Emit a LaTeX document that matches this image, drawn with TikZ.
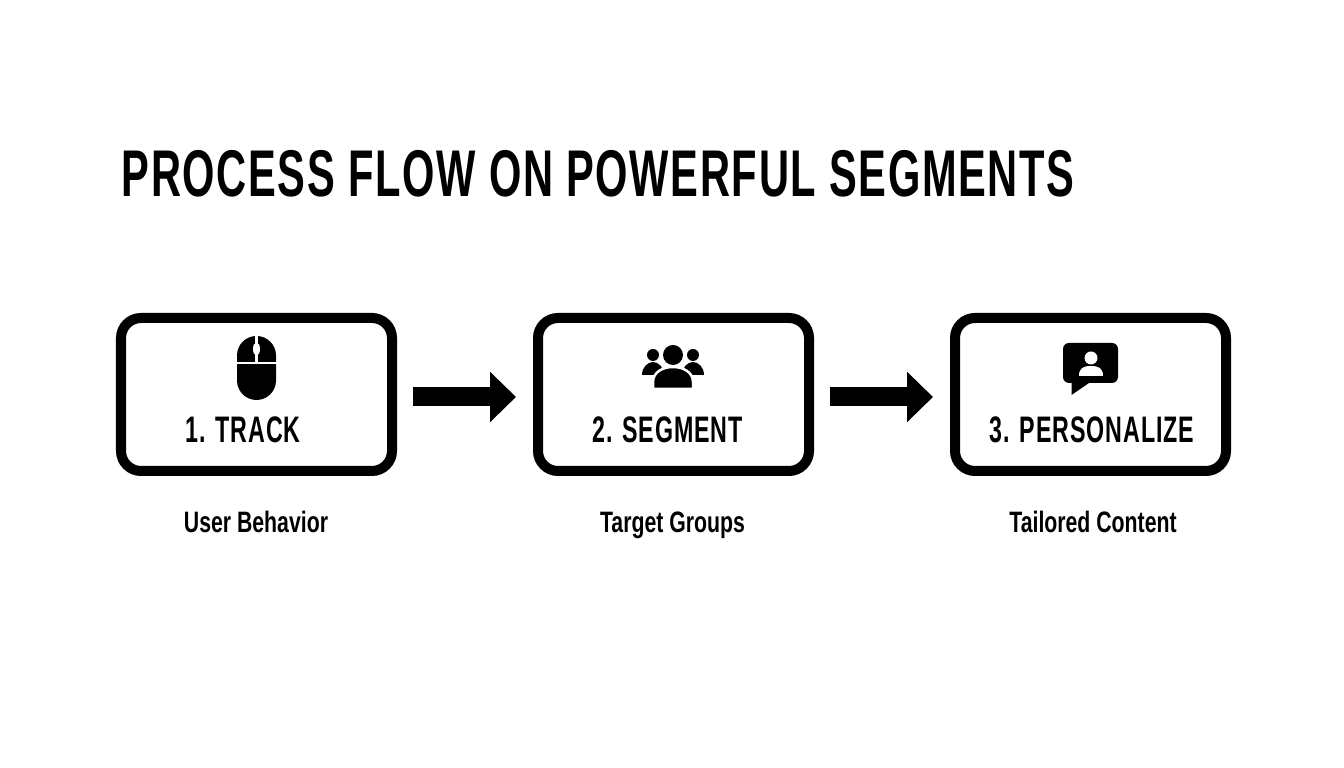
\documentclass[tikz,border=0pt]{standalone}
\usepackage{fontspec}
\usepackage{tikz}
\usetikzlibrary{arrows.meta,positioning}
\newfontfamily\condfont[FakeStretch=0.63,LetterSpace=2.5]{Liberation Sans}
\newfontfamily\subfont[FakeStretch=0.72]{Liberation Sans}
\tikzset{
	stepbox/.style={draw=black,fill=white,line width=0.1cm,rounded corners=0.2cm,minimum width=2.71cm,minimum height=1.53cm,inner sep=0},
	steplabel/.style={anchor=base,inner sep=0,font=\condfont\bfseries\fontsize{10.5}{12}\selectfont},
	sublabel/.style={anchor=base,inner sep=0,font=\subfont\bfseries\fontsize{8.4}{10}\selectfont},
	flowarrow/.style={line width=0.19cm,-{Triangle[length=0.26cm,width=0.49cm]},shorten <=0.16cm,shorten >=0.17cm},
	mouseicon/.pic={
		\fill[black] (-0.195,-0.125) arc (180:360:0.195) -- (0.195,0.125) arc (0:180:0.195) -- cycle;
		\draw[white,line width=0.025cm] (-0.22,0.05) -- (0.22,0.05);
		\draw[white,line width=0.025cm] (0,0.05) -- (0,0.34);
		\fill[white] (0,0.19) ellipse (0.035 and 0.065);
	},
	groupicon/.pic={
		\fill[black] (-0.2,0.15) circle (0.06);
		\fill[black] (0.2,0.15) circle (0.06);
		\fill[black] (-0.31,-0.05) .. controls (-0.31,0.03) and (-0.25,0.08) .. (-0.2,0.08) .. controls (-0.15,0.08) and (-0.09,0.03) .. (-0.09,-0.05) -- cycle;
		\fill[black] (0.31,-0.05) .. controls (0.31,0.03) and (0.25,0.08) .. (0.2,0.08) .. controls (0.15,0.08) and (0.09,0.03) .. (0.09,-0.05) -- cycle;
		\fill[black,draw=white,line width=0.025cm] (-0.2,-0.19) -- (-0.2,-0.12) .. controls (-0.2,-0.02) and (-0.1,0.03) .. (0,0.03) .. controls (0.1,0.03) and (0.2,-0.02) .. (0.2,-0.12) -- (0.2,-0.19) -- cycle;
		\fill[black] (0,0.15) circle (0.1);
	},
	chaticon/.pic={
		\fill[black,rounded corners=0.06cm] (-0.275,-0.2) rectangle (0.275,0.2);
		\fill[black] (-0.19,-0.15) -- (-0.19,-0.32) -- (0.0,-0.19) -- cycle;
		\fill[white] (0.005,0.05) circle (0.065);
		\fill[white] (-0.115,-0.13) .. controls (-0.115,-0.05) and (-0.07,-0.03) .. (0.005,-0.03) .. controls (0.08,-0.03) and (0.125,-0.05) .. (0.125,-0.13) -- cycle;
	}
}
\begin{document}
\begin{tikzpicture}
	\useasboundingbox (0,0) rectangle (13.44,7.68);

	\node[anchor=base west,inner sep=0,font=\condfont\bfseries\fontsize{18.8}{22}\selectfont] (title) at (1.21,5.71) {PROCESS FLOW ON POWERFUL SEGMENTS};

	\node[stepbox] (track) at (2.565,3.735) {};
	\node[stepbox] (segment) at (6.735,3.735) {};
	\node[stepbox] (personalize) at (10.905,3.735) {};

	\draw[flowarrow] ([yshift=-0.025cm]track.east) -- ([yshift=-0.025cm]segment.west);
	\draw[flowarrow] ([yshift=-0.025cm]segment.east) -- ([yshift=-0.025cm]personalize.west);

	\pic at (2.565,4.0) {mouseicon};
	\pic at (6.73,3.98) {groupicon};
	\pic at (10.905,4.05) {chaticon};

	\node[steplabel] (tracklabel) at (2.43,3.25) {1. TRACK};
	\node[steplabel] (segmentlabel) at (6.675,3.25) {2. SEGMENT};
	\node[steplabel] (personalizelabel) at (10.92,3.25) {3. PERSONALIZE};

	\node[sublabel] (trackpart) at (2.56,2.35) {User Behavior};
	\node[sublabel] (segmentpart) at (6.725,2.35) {Target Groups};
	\node[sublabel] (personalizepart) at (10.93,2.35) {Tailored Content};
\end{tikzpicture}
\end{document}
